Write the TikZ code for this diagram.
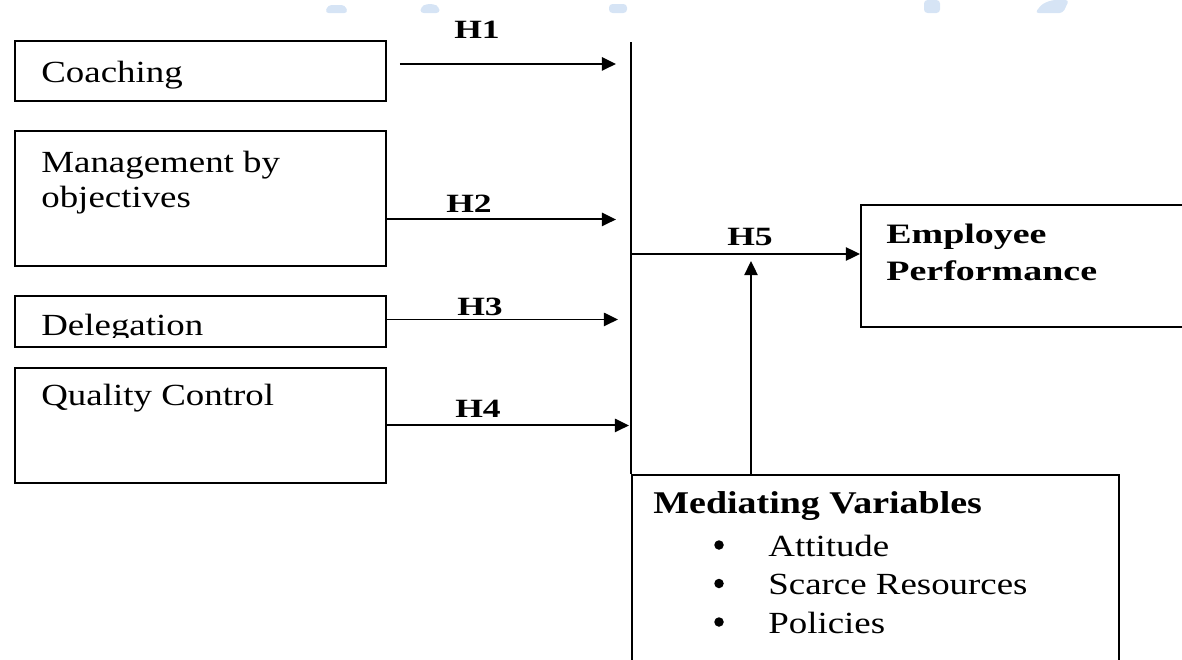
\documentclass[tikz,border=0pt]{standalone}
\usepackage{fontspec}
\setmainfont{Liberation Serif}[FakeStretch=1.2]
\newfontfamily\labfont{Liberation Serif}[FakeStretch=1.35]
\usetikzlibrary{arrows.meta,calc,positioning}

\definecolor{wmblue}{RGB}{214,228,245}

\tikzset{
  box/.style={draw, line width=1.1pt, inner sep=0pt, anchor=north west},
  txt/.style={inner sep=0pt, anchor=base west, align=left, font=\fontsize{17.5}{19.8}\selectfont},
  hlab/.style={inner sep=0pt, anchor=base, font=\labfont\bfseries\fontsize{15}{17}\selectfont},
  emptxt/.style={inner sep=0pt, anchor=base west, align=left, font=\labfont\bfseries\fontsize{16}{21}\selectfont},
  medtxt/.style={inner sep=0pt, anchor=base west, font=\bfseries\fontsize{18}{20}\selectfont},
  dot/.style={circle, fill, inner sep=0pt, minimum size=0.19cm},
  arr/.style={line width=1.1pt, -{Triangle[length=8pt,width=7.5pt]}},
  wmark/.style={fill=wmblue, draw=none, rounded corners=2pt},
}

\begin{document}
\begin{tikzpicture}[x=0.02cm, y=-0.02cm]
\useasboundingbox (0,0) rectangle (1182,659);

% watermark pieces at the top edge
\fill[wmark] (325,13) -- (328,5) -- (345,5) -- (348,13) -- cycle;
\fill[wmark] (420,13) -- (421,7) -- (426,4) -- (434,4) -- (439,7) -- (440,13) -- cycle;
\fill[wmark] (609,13) rectangle (627,4);
\fill[wmark] (924,13) rectangle (940,0);
\fill[wmark] (1035,13) -- (1042,4) -- (1052,0) -- (1069,0) -- (1063,13) -- cycle;

% left hand boxes
\node[box, minimum width=7.42cm, minimum height=1.2cm] (coach) at (14,40) {};
\node[box, minimum width=7.42cm, minimum height=2.7cm] (mbo) at (14,130) {};
\node[box, minimum width=7.42cm, minimum height=1.02cm] (deleg) at (14,295) {};
\node[box, minimum width=7.42cm, minimum height=2.3cm] (qc) at (14,367) {};

\node[txt] (coachtxt) at (41,82) {Coaching};
\node[txt] (mbotxt) at (41,207) {Management by\\objectives};
\begin{scope}
  \clip (14,295) rectangle (385,337);
  \node[txt] (delegtxt) at (41,335) {Delegation};
\end{scope}
\node[txt] (qctxt) at (41,405) {Quality Control};

% right hand boxes
\node[box, minimum width=7.2cm, minimum height=2.44cm] (emp) at (860,204) {};
\node[emptxt] (emplabel) at (886,280) {Employee\\Performance};

\node[box, minimum width=9.74cm, minimum height=5cm] (med) at (631,474) {};
\node[medtxt] (medhead) at (653,513) {Mediating Variables};
\foreach \t [count=\i] in {Attitude, Scarce Resources, Policies} {
  \node[dot] (bul\i) at (719,{545+38.5*(\i-1)}) {};
  \node[txt] (var\i) at (768,{556+38.5*(\i-1)}) {\t};
}

% collecting bar
\coordinate (bartop) at (631,42);
\draw[line width=1.1pt] (bartop) -- (bartop |- med.north);

\draw[arr] ($(coach.east)+(13,-7)$) -- ($(bartop |- coach.east)+(-15,-7)$);
\draw[arr] ($(mbo.east)+(0,21)$) -- ($(bartop |- mbo.east)+(-15,21)$);
\draw[arr] ($(deleg.east)+(0,-2)$) -- ($(bartop |- deleg.east)+(-13,-2)$);
\draw[arr] (qc.east) -- ($(bartop |- qc.east)+(-2,0)$);

\node[hlab] (h1) at (477,38) {H1};
\node[hlab] (h2) at (469,212) {H2};
\node[hlab] (h3) at (480,315) {H3};
\node[hlab] (h4) at (478,417) {H4};

% path to the outcome
\coordinate (h5from) at (631,254);
\draw[arr] (h5from) -- (h5from -| emp.west);
\node[hlab] (h5) at (750,245) {H5};

\coordinate (h5in) at (751,261);
\draw[arr] (h5in |- med.north) -- (h5in);
\end{tikzpicture}
\end{document}
